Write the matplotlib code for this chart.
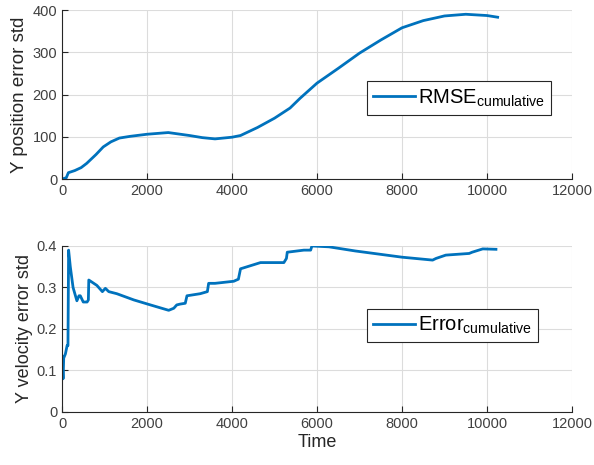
import matplotlib
matplotlib.use("Agg")
import matplotlib.pyplot as plt

plt.rcParams['font.family'] = ['Liberation Sans', 'DejaVu Sans']
plt.rcParams['mathtext.fontset'] = 'custom'
plt.rcParams['mathtext.rm'] = 'Liberation Sans'
plt.rcParams['mathtext.it'] = 'Liberation Sans'

# Top: Y position error std (RMSE cumulative)
t_pos = [0, 100, 150, 300, 450, 580, 800, 970, 1150, 1350, 1600, 2000, 2500, 3000,
         3300, 3600, 4000, 4200, 4600, 5000, 5365, 5600, 6000, 6500, 7000, 7500,
         8000, 8500, 9000, 9500, 10000, 10250]
y_pos = [0, 3, 15, 20, 27, 37, 58, 76, 88, 97, 101, 106, 110, 103,
         98, 95, 99, 103, 122, 144, 168, 191, 227, 262, 298, 329,
         358, 375, 386, 390, 387, 383]

# Bottom: Y velocity error std (Error cumulative)
t_vel = [0, 25, 40, 80, 120, 140, 155, 195, 260, 350, 400, 430, 500, 590, 620, 630,
         820, 950, 1020, 1100, 1290, 1690, 2080, 2510, 2630, 2700, 2780, 2900, 2940,
         3250, 3420, 3450, 3600, 4040, 4150, 4200, 4670, 5220, 5280, 5300, 5690, 5850,
         5880, 6280, 6900, 8000, 8720, 8800, 9030, 9580, 9650, 9900, 10210]
y_vel = [0.133, 0.08, 0.13, 0.14, 0.16, 0.16, 0.39, 0.35, 0.3, 0.268, 0.28, 0.28,
         0.265, 0.265, 0.27, 0.318, 0.305, 0.29, 0.298, 0.29, 0.285, 0.27, 0.258,
         0.245, 0.25, 0.258, 0.26, 0.262, 0.28, 0.285, 0.29, 0.31, 0.31, 0.315, 0.32,
         0.345, 0.36, 0.36, 0.37, 0.385, 0.39, 0.39, 0.40, 0.398, 0.388, 0.373, 0.366,
         0.37, 0.378, 0.382, 0.385, 0.393, 0.392]

line_color = '#0072BD'
tick_color = '#262626'

fig = plt.figure(figsize=(5.94, 4.65), dpi=100)
ax1 = fig.add_axes([0.1044, 0.615, 0.8586, 0.3634])
ax2 = fig.add_axes([0.1044, 0.114, 0.8586, 0.357])

ax1.plot(t_pos, y_pos, color=line_color, lw=2, label=r'RMSE$_{\mathrm{cumulative}}$')
ax2.plot(t_vel, y_vel, color=line_color, lw=2, label=r'Error$_{\mathrm{cumulative}}$')

ax1.set_xlim(0, 12000)
ax1.set_ylim(0, 400)
ax1.set_yticks([0, 100, 200, 300, 400])
ax2.set_xlim(0, 12000)
ax2.set_ylim(0, 0.4)
ax2.set_yticks([0, 0.1, 0.2, 0.3, 0.4])
ax2.set_yticklabels(['0', '0.1', '0.2', '0.3', '0.4'])

for ax in (ax1, ax2):
    ax.set_xticks(range(0, 12001, 2000))
    ax.grid(True, color='#dcdcdc', lw=0.8)
    ax.set_axisbelow(True)
    ax.spines['top'].set_visible(False)
    ax.spines['right'].set_visible(False)
    ax.spines['left'].set_color(tick_color)
    ax.spines['bottom'].set_color(tick_color)
    ax.tick_params(direction='in', length=4, colors=tick_color, labelsize=10.5,
                   labelcolor='#404040')

ax1.set_ylabel('Y position error std', fontsize=13.5, color='#262626', labelpad=3)
ax2.set_ylabel('Y velocity error std', fontsize=13, color='#262626', labelpad=3)
ax2.set_xlabel('Time', fontsize=13, color='#262626', labelpad=2)

for ax, loc in ((ax1, (0.598, 0.38)), (ax2, (0.598, 0.42))):
    leg = ax.legend(loc='lower left', bbox_to_anchor=loc, fontsize=14.5,
                    frameon=True, fancybox=False, edgecolor='#262626',
                    framealpha=1, handlelength=2.1, handletextpad=0.15,
                    borderpad=0.3, borderaxespad=0)
    leg.get_frame().set_linewidth(0.8)

fig.savefig('out.png', dpi=100)
